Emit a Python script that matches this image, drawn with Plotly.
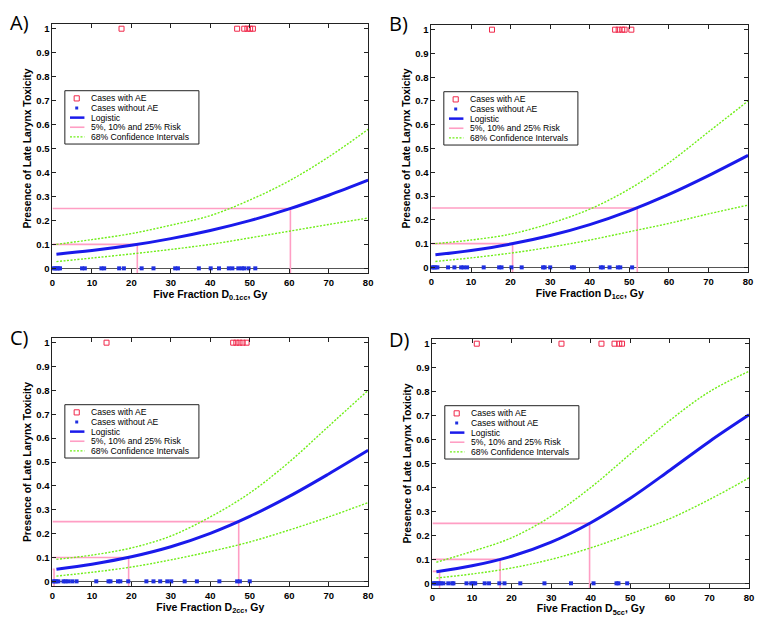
import plotly.graph_objects as go

# ---------------- data ----------------
curve_x = [1, 10, 20, 30, 40, 50, 60, 70, 80]

# Panel A  (D0.1cc)
a_logistic = [0.059, 0.074, 0.096, 0.124, 0.158, 0.199, 0.248, 0.305, 0.368]
a_upper = [0.100, 0.120, 0.145, 0.180, 0.220, 0.285, 0.365, 0.465, 0.580]
a_lower = [0.028, 0.043, 0.060, 0.079, 0.100, 0.127, 0.155, 0.183, 0.210]
a_ae = [17.5, 46.8, 48.6, 49.4, 50.1, 50.8]
a_noae = [0.3, 0.7, 1.1, 1.5, 1.9, 7.5, 8.2, 12.4, 13.1, 16.9, 18.1, 22.6, 25.6,
          31.1, 31.8, 37.1, 40.1, 42.2, 44.7, 45.6, 47.1, 48.0, 48.6, 49.7, 51.4]
a_risk_x = [21.5, 60.3]
a_risk_y = [0.10, 0.25]

# Panel B  (D1cc)
b_logistic = [0.053, 0.071, 0.098, 0.134, 0.180, 0.238, 0.307, 0.386, 0.471]
b_upper = [0.100, 0.115, 0.140, 0.185, 0.245, 0.330, 0.440, 0.570, 0.700]
b_lower = [0.025, 0.040, 0.060, 0.085, 0.115, 0.150, 0.185, 0.225, 0.262]
b_ae = [15.3, 46.4, 47.3, 48.2, 48.8, 50.5]
b_noae = [0.2, 0.6, 1.0, 1.5, 4.2, 5.8, 7.5, 8.1, 9.0, 13.2, 17.1, 17.7, 20.2,
          22.8, 28.2, 28.6, 30.0, 35.5, 36.0, 42.8, 43.3, 45.0, 47.1, 47.7, 50.7]
b_risk_x = [20.5, 52.0]
b_risk_y = [0.10, 0.25]

# Panel C  (D2cc)
c_logistic = [0.051, 0.072, 0.103, 0.145, 0.201, 0.272, 0.356, 0.450, 0.549]
c_upper = [0.092, 0.110, 0.140, 0.190, 0.270, 0.370, 0.500, 0.650, 0.800]
c_lower = [0.022, 0.038, 0.060, 0.090, 0.125, 0.165, 0.215, 0.270, 0.330]
c_ae = [13.7, 45.8, 46.6, 47.4, 48.2, 49.2]
c_noae = [0.2, 0.6, 1.0, 1.5, 2.8, 3.3, 4.0, 5.0, 6.1, 11.1, 14.2, 14.7, 16.6,
          17.2, 19.2, 23.8, 25.6, 27.3, 29.1, 30.1, 33.5, 36.6, 42.3, 46.8, 47.5, 50.0]
c_risk_x = [0.4, 19.3, 47.2]
c_risk_y = [0.05, 0.10, 0.25]

# Panel D  (D5cc)
d_logistic = [0.048, 0.073, 0.113, 0.172, 0.253, 0.355, 0.472, 0.592, 0.703]
d_upper = [0.088, 0.133, 0.190, 0.280, 0.400, 0.540, 0.680, 0.800, 0.885]
d_lower = [0.022, 0.039, 0.064, 0.100, 0.148, 0.206, 0.270, 0.350, 0.440]
d_ae = [11.2, 32.6, 42.7, 46.0, 47.2, 47.9]
d_noae = [0.2, 0.5, 0.9, 1.3, 1.7, 2.1, 2.75, 4.0, 5.0, 5.3, 8.6, 9.8, 10.3, 10.8,
          13.2, 14.3, 16.9, 18.2, 22.2, 28.3, 35.0, 40.7, 46.5, 47.0, 49.2]
d_risk_x = [1.8, 17.1, 39.7]
d_risk_y = [0.05, 0.10, 0.25]

panel_labels = ["A)", "B)", "C)", "D)"]
subscripts = ["0.1cc", "1cc", "2cc", "5cc"]
legend_labels = ["Cases with AE", "Cases without AE", "Logistic",
                 "5%, 10% and 25% Risk", "68% Confidence Intervals"]
x_ticks = [0, 10, 20, 30, 40, 50, 60, 70, 80]
y_ticks = [0, 0.1, 0.2, 0.3, 0.4, 0.5, 0.6, 0.7, 0.8, 0.9, 1]
y_ticktext = ["0", "0.1", "0.2", "0.3", "0.4", "0.5", "0.6", "0.7", "0.8", "0.9", "1"]

# ---------------- styling / layout ----------------
W, H = 762, 623
FONT = "Liberation Sans, Arial, Helvetica, sans-serif"
C_LOG = "#1a1aeb"
C_GREEN = "#70ee18"
C_PINK = "#ff9ec4"
C_RED = "#f0284a"
C_DOT = "#1f2fe0"
GREEN_DASH = "2px,1.5px"

# plot areas in pixels: (left, right, top, bottom)
areas = [(50, 369, 23, 273), (433, 753, 24, 272), (50, 369, 338, 587), (434, 754, 339, 589)]
label_pos = [(5, 22), (388, 23), (5, 338), (388, 340)]

panels = [
    (a_logistic, a_upper, a_lower, a_ae, a_noae, a_risk_x, a_risk_y),
    (b_logistic, b_upper, b_lower, b_ae, b_noae, b_risk_x, b_risk_y),
    (c_logistic, c_upper, c_lower, c_ae, c_noae, c_risk_x, c_risk_y),
    (d_logistic, d_upper, d_lower, d_ae, d_noae, d_risk_x, d_risk_y),
]

fig = go.Figure()
layout = dict(
    width=W, height=H, margin=dict(l=0, r=0, t=0, b=0),
    paper_bgcolor="white", plot_bgcolor="white", showlegend=False,
    font=dict(family=FONT, color="black"),
)
shapes = []
annotations = []
YMIN, YMAX = -0.02, 1.02

for i, (logi, up, lo, ae, noae, rx, ry) in enumerate(panels):
    s = "" if i == 0 else str(i + 1)
    xa, ya = "x" + s, "y" + s
    l, r, t, b = areas[i]

    # risk lines
    risk_xs, risk_ys = [], []
    for xc, lv in zip(rx, ry):
        risk_xs += [0, xc, xc, None]
        risk_ys += [lv, lv, YMIN, None]
    fig.add_trace(go.Scatter(x=risk_xs, y=risk_ys, mode="lines", xaxis=xa, yaxis=ya,
                             line=dict(color=C_PINK, width=1.6), name=legend_labels[3],
                             connectgaps=False))
    # confidence intervals
    for yy in (up, lo):
        fig.add_trace(go.Scatter(x=curve_x, y=yy, mode="lines", xaxis=xa, yaxis=ya,
                                 line=dict(color=C_GREEN, width=1.4, dash=GREEN_DASH,
                                           shape="spline"),
                                 name=legend_labels[4]))
    # logistic
    fig.add_trace(go.Scatter(x=curve_x, y=logi, mode="lines", xaxis=xa, yaxis=ya,
                             line=dict(color=C_LOG, width=3, shape="spline"),
                             name=legend_labels[2]))
    # cases without AE
    fig.add_trace(go.Scatter(x=noae, y=[0] * len(noae), mode="markers", xaxis=xa, yaxis=ya,
                             marker=dict(color=C_DOT, size=4, symbol="square"),
                             name=legend_labels[1], cliponaxis=False))
    # cases with AE
    fig.add_trace(go.Scatter(x=ae, y=[1] * len(ae), mode="markers", xaxis=xa, yaxis=ya,
                             marker=dict(color=C_RED, size=5, symbol="square-open",
                                         line=dict(color=C_RED, width=1)),
                             name=legend_labels[0], cliponaxis=False))

    xdom = [l / W, r / W]
    ydom = [1 - b / H, 1 - t / H]
    layout["xaxis" + s] = dict(
        domain=xdom, anchor=ya, range=[0, 80], tickvals=x_ticks,
        ticks="inside", ticklen=4, tickcolor="#222", showline=True, mirror="ticks",
        linecolor="#222", linewidth=1, showgrid=False, zeroline=False,
        tickfont=dict(family=FONT, size=9.5, color="black", weight="bold"),
        title=dict(text="Five Fraction D<sub>%s</sub>, Gy" % subscripts[i],
                   font=dict(family=FONT, size=10.5, color="black", weight="bold"),
                   standoff=0),
    )
    layout["yaxis" + s] = dict(
        domain=ydom, anchor=xa, range=[YMIN, YMAX], tickvals=y_ticks, ticktext=y_ticktext,
        ticks="inside", ticklen=4, tickcolor="#222", showline=True, mirror="ticks",
        linecolor="#222", linewidth=1, showgrid=False,
        zeroline=True, zerolinecolor="#555", zerolinewidth=1,
        tickfont=dict(family=FONT, size=9.5, color="black", weight="bold"),
        title=dict(text="Presence of Late Larynx Toxicity",
                   font=dict(family=FONT, size=10.3, color="black", weight="bold"),
                   standoff=2),
    )

    # panel label
    lx, ly = label_pos[i]
    annotations.append(dict(text=panel_labels[i], xref="paper", yref="paper",
                            x=lx / W, y=1 - ly / H, xanchor="left", yanchor="middle",
                            showarrow=False, font=dict(family="Open Sans, sans-serif", size=20,
                                                       color="black")))

    # manual legend (in axis-domain coordinates)
    pw, ph = r - l, b - t
    xr, yr = "x%s domain" % s, "y%s domain" % s
    bx0, bx1 = 12.5 / pw, 148.0 / pw
    by1, by0 = 1 - 67.0 / ph, 1 - 120.5 / ph
    shapes.append(dict(type="rect", xref=xr, yref=yr, x0=bx0, x1=bx1, y0=by0, y1=by1,
                       line=dict(color="#222", width=1), fillcolor="white", layer="above"))
    item_y = [1 - (74.7 + 9.65 * k) / ph for k in range(5)]
    sx0, sx1, sxc = 17.7 / pw, 32.3 / pw, 24.5 / pw
    tx = 37.3 / pw
    hx, hy = 2.6 / pw, 2.6 / ph
    shapes.append(dict(type="rect", xref=xr, yref=yr, x0=sxc - hx, x1=sxc + hx,
                       y0=item_y[0] - hy, y1=item_y[0] + hy,
                       line=dict(color=C_RED, width=1), layer="above"))
    dx, dy = 1.5 / pw, 1.5 / ph
    shapes.append(dict(type="rect", xref=xr, yref=yr, x0=sxc - dx, x1=sxc + dx,
                       y0=item_y[1] - dy, y1=item_y[1] + dy,
                       line=dict(color=C_DOT, width=0), fillcolor=C_DOT, layer="above"))
    for k, (col, wdt, dash) in zip([2, 3, 4], [(C_LOG, 2.5, "solid"), (C_PINK, 1.6, "solid"),
                                               (C_GREEN, 1.4, GREEN_DASH)]):
        shapes.append(dict(type="line", xref=xr, yref=yr, x0=sx0, x1=sx1,
                           y0=item_y[k], y1=item_y[k],
                           line=dict(color=col, width=wdt, dash=dash), layer="above"))
    for k in range(5):
        annotations.append(dict(text=legend_labels[k], xref=xr, yref=yr, x=tx, y=item_y[k],
                                xanchor="left", yanchor="middle", showarrow=False,
                                font=dict(family=FONT, size=8.6, color="black")))

layout["shapes"] = shapes
layout["annotations"] = annotations
fig.update_layout(**layout)
fig.write_html("out.html", config={"displayModeBar": False},
               post_script="document.body.style.margin='0';document.body.style.overflow='hidden';")
